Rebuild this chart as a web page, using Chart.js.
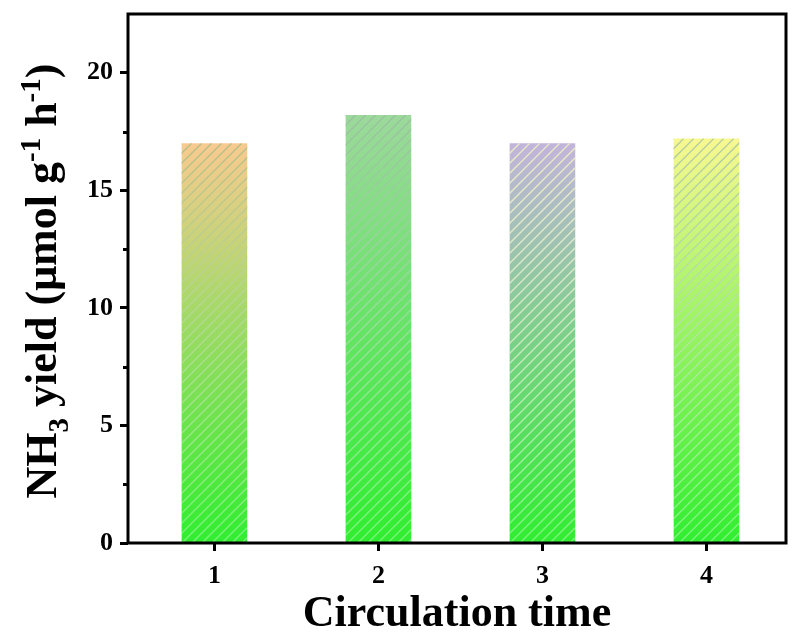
<!DOCTYPE html>
<html>
<head>
<meta charset="utf-8">
<script src="https://cdn.jsdelivr.net/npm/chart.js@4"></script>
<style>
  html, body { margin: 0; padding: 0; background: #fff; }
  #chart { display: block; }
</style>
</head>
<body>
<canvas id="chart" width="792" height="639"></canvas>
<script>
// data
const cycles = [1, 2, 3, 4];
const yields = [17.0, 18.2, 17.0, 17.2];
const yTicks = [0, 5, 10, 15, 20];
const yMinorTicks = [2.5, 7.5, 12.5, 17.5];

const topColors = ['#f9ca90', '#9cd99b', '#c3b4dc', '#f8f890'];
const bottomColor = '#30ee30';
const hatchColors = ['rgba(150,185,130,0.75)', 'rgba(150,175,160,0.6)', 'rgba(240,240,195,0.9)', 'rgba(145,180,170,0.7)'];

const FONT = "'Liberation Serif', 'Times New Roman', serif";

// fondo blanco
const whiteBg = {
    id: 'whiteBg',
    beforeDraw(chart) {
        const ctx = chart.ctx;
        ctx.save();
        ctx.fillStyle = '#fff';
        ctx.fillRect(0, 0, chart.width, chart.height);
        ctx.restore();
    }
};

// rayado diagonal sobre cada barra
const hatch = {
    id: 'hatch',
    afterDatasetsDraw(chart) {
        const ctx = chart.ctx;
        const meta = chart.getDatasetMeta(0);
        meta.data.forEach((bar, i) => {
            const { x, y, base, width } = bar.getProps(['x', 'y', 'base', 'width'], true);
            const left = x - width / 2;
            const h = base - y;
            ctx.save();
            ctx.beginPath();
            ctx.rect(left, y, width, h);
            ctx.clip();
            const g = ctx.createLinearGradient(0, y, 0, base);
            g.addColorStop(0, hatchColors[i]);
            g.addColorStop(1, 'rgba(255,255,255,0.35)');
            ctx.strokeStyle = g;
            ctx.lineWidth = 1.3;
            ctx.beginPath();
            for (let k = -h; k < width + h; k += 10) {
                ctx.moveTo(left + k, base);
                ctx.lineTo(left + k + h, y);
            }
            ctx.stroke();
            ctx.restore();
        });
    }
};

// marco completo y ticks menores
const frame = {
    id: 'frame',
    afterDraw(chart) {
        const ctx = chart.ctx;
        const a = chart.chartArea;
        const ys = chart.scales.y;
        ctx.save();
        ctx.strokeStyle = '#000';
        ctx.lineWidth = 3;
        ctx.strokeRect(a.left, a.top, a.right - a.left, a.bottom - a.top);
        ctx.beginPath();
        yMinorTicks.forEach(v => {
            const py = Math.round(ys.getPixelForValue(v)) + 0.5;
            ctx.moveTo(a.left - 5, py);
            ctx.lineTo(a.left, py);
        });
        ctx.stroke();
        ctx.restore();
    }
};

// titulo del eje y con subindice y superindices
const yTitle = {
    id: 'yTitle',
    afterDraw(chart) {
        const ctx = chart.ctx;
        const size = 44;
        const small = 29;
        const parts = [
            { t: 'NH', s: size, dy: 0 },
            { t: '3', s: small, dy: 12 },
            { t: ' yield (\u03bcmol g', s: size, dy: 0 },
            { t: '-1', s: small, dy: -16 },
            { t: ' h', s: size, dy: 0 },
            { t: '-1', s: small, dy: -16 },
            { t: ')', s: size, dy: 0 }
        ];
        ctx.save();
        let total = 0;
        parts.forEach(p => {
            ctx.font = `bold ${p.s}px ${FONT}`;
            p.w = ctx.measureText(p.t).width;
            total += p.w;
        });
        ctx.translate(56, 281);
        ctx.rotate(-Math.PI / 2);
        ctx.fillStyle = '#000';
        ctx.textBaseline = 'alphabetic';
        let cx = -total / 2;
        parts.forEach(p => {
            ctx.font = `bold ${p.s}px ${FONT}`;
            ctx.fillText(p.t, cx, p.dy);
            cx += p.w;
        });
        ctx.restore();
    }
};

const ctx = document.getElementById('chart').getContext('2d');
new Chart(ctx, {
    type: 'bar',
    data: {
        datasets: [{
            data: cycles.map((c, i) => ({ x: c, y: yields[i] })),
            backgroundColor: context => {
                const chart = context.chart;
                const ys = chart.scales.y;
                const i = context.dataIndex;
                if (!ys || !chart.chartArea || i == null) return topColors[i || 0];
                const top = ys.getPixelForValue(yields[i]);
                const bottom = ys.getPixelForValue(0);
                if (!isFinite(top) || !isFinite(bottom)) return topColors[i];
                const g = chart.ctx.createLinearGradient(0, top, 0, bottom);
                g.addColorStop(0, topColors[i]);
                g.addColorStop(1, bottomColor);
                return g;
            },
            borderWidth: 0,
            barPercentage: 0.4,
            categoryPercentage: 1.0
        }]
    },
    options: {
        responsive: false,
        animation: false,
        devicePixelRatio: 1,
        layout: { padding: { left: 0, top: 14, right: 6, bottom: 0 } },
        plugins: {
            legend: { display: false },
            tooltip: { enabled: false }
        },
        scales: {
            x: {
                type: 'linear',
                offset: false,
                min: 0.473,
                max: 4.485,
                afterBuildTicks: s => { s.ticks = cycles.map(v => ({ value: v })); },
                afterFit: s => { s.height = 96; s.paddingLeft = 0; s.paddingRight = 0; },
                grid: {
                    offset: false,
                    drawOnChartArea: false,
                    drawTicks: true,
                    tickLength: 8,
                    tickWidth: 3,
                    tickColor: '#000'
                },
                border: { display: false },
                ticks: {
                    padding: 10,
                    color: '#000',
                    font: { family: FONT, size: 26, weight: 'bold' }
                },
                title: {
                    display: true,
                    text: 'Circulation time',
                    color: '#000',
                    font: { family: FONT, size: 44, weight: 'bold', lineHeight: 1.1 },
                    padding: 0
                }
            },
            y: {
                min: 0,
                max: 22.5,
                afterBuildTicks: s => { s.ticks = yTicks.map(v => ({ value: v })); },
                afterFit: s => { s.width = 128; s.paddingTop = 0; s.paddingBottom = 0; },
                grid: {
                    drawOnChartArea: false,
                    drawTicks: true,
                    tickLength: 8,
                    tickWidth: 3,
                    tickColor: '#000'
                },
                border: { display: false },
                ticks: {
                    padding: 7,
                    color: '#000',
                    font: { family: FONT, size: 26, weight: 'bold' }
                }
            }
        }
    },
    plugins: [whiteBg, hatch, frame, yTitle]
});
</script>
</body>
</html>
